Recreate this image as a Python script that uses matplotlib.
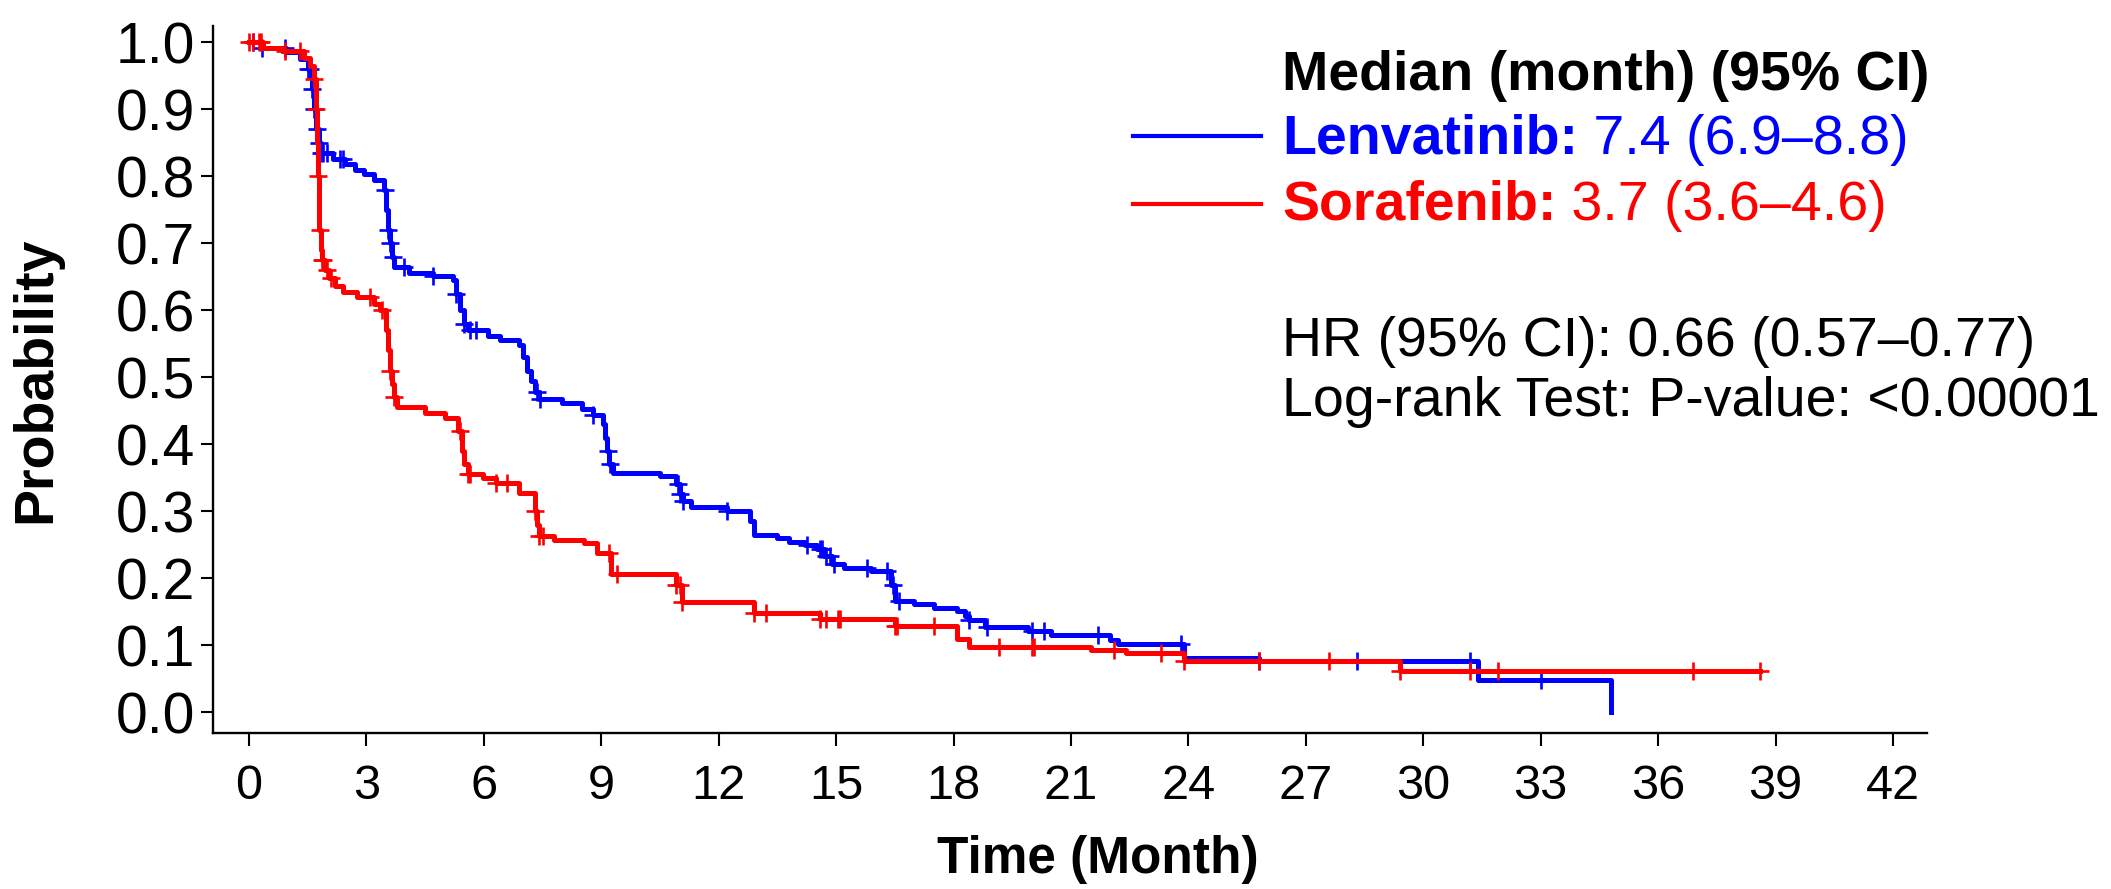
import numpy as np
import matplotlib.pyplot as plt
from matplotlib.lines import Line2D

plt.rcParams['font.family'] = ['Liberation Sans', 'DejaVu Sans']

# Kaplan-Meier steps: month of each drop and the survival right after it
len_time = [0, 0.3, 0.95, 1.3, 1.5, 1.6, 1.65, 1.7, 1.78, 1.85, 2.15, 2.45, 2.7,
            2.95, 3.2, 3.45, 3.5, 3.55, 3.6, 3.65, 3.7, 4.1, 4.7, 5.2, 5.3, 5.4,
            5.5, 5.6, 6.1, 6.4, 6.9, 7.0, 7.1, 7.2, 7.3, 7.4, 8.0, 8.5, 8.8, 9.05,
            9.1, 9.15, 9.2, 9.3, 10.5, 10.9, 11.0, 11.1, 11.3, 12.2, 12.8, 12.9,
            13.5, 13.8, 14.2, 14.5, 14.7, 14.9, 15.2, 15.9, 16.4, 16.5, 17.0,
            17.5, 18.1, 18.3, 18.4, 18.8, 19.9, 20.5, 22.0, 22.2, 23.9, 25.8,
            31.4, 34.8]
len_surv = [1.0, 0.992, 0.985, 0.975, 0.96, 0.93, 0.90, 0.87, 0.85, 0.834, 0.826,
            0.818, 0.81, 0.803, 0.795, 0.78, 0.75, 0.72, 0.70, 0.68, 0.664, 0.656,
            0.651, 0.645, 0.625, 0.60, 0.58, 0.571, 0.562, 0.555, 0.548, 0.53,
            0.51, 0.495, 0.478, 0.468, 0.462, 0.452, 0.444, 0.43, 0.41, 0.39,
            0.37, 0.357, 0.352, 0.34, 0.325, 0.315, 0.307, 0.30, 0.285, 0.265,
            0.26, 0.254, 0.249, 0.243, 0.233, 0.222, 0.216, 0.211, 0.19, 0.166,
            0.161, 0.156, 0.151, 0.143, 0.137, 0.127, 0.121, 0.116, 0.108, 0.102,
            0.081, 0.076, 0.048, 0.0]
len_censor = [0.1, 0.33, 0.92, 1.5, 1.55, 1.6, 1.65, 1.73, 1.78, 1.85, 1.9, 1.99,
              2.33, 2.41, 3.48, 3.55, 3.6, 3.69, 3.95, 4.71, 5.3, 5.5, 5.64, 5.8,
              7.35, 7.44, 8.8, 9.17, 9.21, 10.95, 11.0, 11.1, 12.2, 14.25, 14.6,
              14.65, 14.75, 14.85, 14.95, 15.8, 16.3, 16.45, 16.6, 18.4, 18.85,
              20.0, 20.3, 21.7, 23.8, 25.8, 28.3, 31.2, 33.0]

sor_time = [0, 0.35, 0.85, 1.4, 1.55, 1.65, 1.7, 1.73, 1.76, 1.78, 1.8, 1.83,
            1.86, 1.95, 2.05, 2.2, 2.4, 2.75, 3.2, 3.35, 3.5, 3.55, 3.6, 3.65, 3.7,
            3.77, 4.5, 5.0, 5.35, 5.45, 5.5, 5.6, 5.97, 6.3, 6.9, 7.3, 7.35, 7.4,
            7.8, 8.55, 8.9, 9.25, 10.9, 11.05, 12.9, 14.6, 16.5, 18.1, 18.4, 21.5,
            22.4, 23.9, 29.4]
sor_surv = [1.0, 0.991, 0.987, 0.977, 0.965, 0.945, 0.90, 0.85, 0.80, 0.76, 0.72,
            0.69, 0.675, 0.66, 0.648, 0.636, 0.628, 0.62, 0.61, 0.60, 0.57, 0.54,
            0.51, 0.49, 0.47, 0.455, 0.446, 0.439, 0.42, 0.39, 0.37, 0.356, 0.349,
            0.342, 0.327, 0.30, 0.28, 0.263, 0.257, 0.252, 0.237, 0.207, 0.19,
            0.165, 0.148, 0.139, 0.129, 0.11, 0.098, 0.093, 0.089, 0.076, 0.061]
sor_censor = [0.0, 0.1, 0.25, 0.3, 0.92, 1.3, 1.65, 1.72, 1.77, 1.82, 1.86, 1.9,
              2.0, 2.1, 3.1, 3.4, 3.6, 3.7, 5.4, 5.6, 5.65, 6.3, 6.6, 7.3, 7.4,
              7.5, 9.2, 9.4, 10.9, 11.0, 11.05, 12.9, 13.2, 14.6, 14.75, 15.05,
              15.1, 16.5, 16.55, 17.5, 19.15, 20.0, 20.05, 22.1, 23.3, 23.9, 25.8,
              27.6, 29.4, 31.2, 31.9, 36.9, 38.6]
sor_end = 38.6

x_ticks = list(range(0, 43, 3))
y_ticks = [0.0, 0.1, 0.2, 0.3, 0.4, 0.5, 0.6, 0.7, 0.8, 0.9, 1.0]

BLUE = '#0000ff'
RED = '#ff0000'
W, H = 2111, 889


def km_at(times, surv, t):
  idx = np.searchsorted(times, t, side='right') - 1
  return np.asarray(surv)[idx]


def fxy(x, y):
  # pixel position -> figure fraction
  return x / W, 1 - y / H


def main():
  fig = plt.figure(figsize=(W / 100, H / 100), dpi=100)
  ax = fig.add_axes([213 / W, 156 / H, 1714 / W, 707 / H])

  # Lenvatinib (ends with the last event dropping to zero)
  ax.step(len_time, len_surv, where='post', color=BLUE, lw=3.6, zorder=3)
  ax.plot(len_censor, km_at(len_time, len_surv, len_censor), ls='none',
          marker='+', ms=13, mew=1.9, color=BLUE, zorder=3)

  # Sorafenib, curve runs on to the last censored patient
  st = sor_time + [sor_end]
  ss = sor_surv + [sor_surv[-1]]
  ax.step(st, ss, where='post', color=RED, lw=3.6, zorder=4)
  ax.plot(sor_censor, km_at(sor_time, sor_surv, sor_censor), ls='none',
          marker='+', ms=13, mew=1.9, color=RED, zorder=4)

  ax.set_xlim(-0.92, 42.87)
  ax.set_ylim(-0.031, 1.0243)
  ax.set_xticks(x_ticks)
  ax.set_yticks(y_ticks)
  ax.set_yticklabels([f'{v:.1f}' for v in y_ticks])
  for side in ('top', 'right'):
    ax.spines[side].set_visible(False)
  for side in ('left', 'bottom'):
    ax.spines[side].set_linewidth(1.7)
  ax.tick_params(axis='both', direction='out', length=9, width=1.5)
  ax.tick_params(axis='y', labelsize=41, pad=4)
  ax.tick_params(axis='x', labelsize=35, pad=13)

  ax.set_xlabel('Time (Month)', fontsize=37, fontweight='bold')
  ax.xaxis.set_label_coords(0.516, -0.144)
  ax.set_ylabel('Probability', fontsize=40, fontweight='bold')
  ax.yaxis.set_label_coords(-0.088, 0.5)

  # legend block on the right
  fs = 40
  fig.text(*fxy(1282, 90), 'Median (month) (95% CI)', fontsize=fs,
           fontweight='bold', va='baseline')
  rows = [('Lenvatinib:', ' 7.4 (6.9–8.8)', BLUE, 154, 136),
          ('Sorafenib:', ' 3.7 (3.6–4.6)', RED, 220, 204)]
  for name, med, col, base, ly in rows:
    fig.add_artist(Line2D([1133 / W, 1261 / W], [1 - ly / H] * 2, color=col, lw=3))
    t1 = fig.text(*fxy(1282, base), name, fontsize=fs, fontweight='bold',
                  color=col, va='baseline')
    ax.annotate(med, xy=(1, 0), xycoords=t1, va='bottom', ha='left',
                fontsize=fs, color=col, annotation_clip=False)
  fig.text(*fxy(1282, 356), 'HR (95% CI): 0.66 (0.57–0.77)', fontsize=fs,
           va='baseline')
  fig.text(*fxy(1282, 416), 'Log-rank Test: P-value: <0.00001', fontsize=fs,
           va='baseline')

  fig.savefig('out.png', dpi=100)


if __name__ == '__main__':
  main()
